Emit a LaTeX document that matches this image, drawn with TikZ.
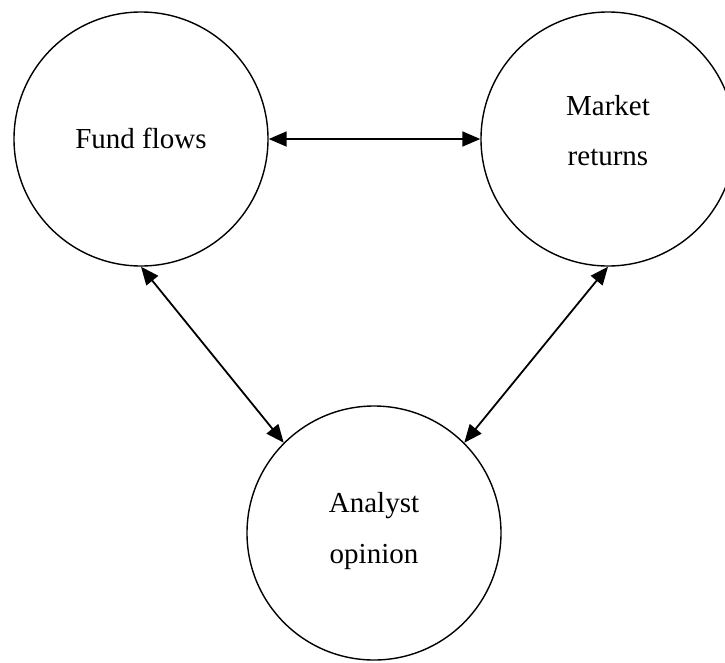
\documentclass[tikz,border=0pt]{standalone}
\usepackage{fontspec}
\setmainfont{Liberation Serif}
\usetikzlibrary{arrows.meta}
\tikzset{
  bubble/.style={draw, circle, line width=1.4pt, minimum size=254pt, inner sep=0pt},
  lbl/.style={font=\fontsize{29}{34}\selectfont, inner sep=0pt, anchor=base},
  link/.style={line width=1.8pt, {Triangle[length=18pt,width=15pt]}-{Triangle[length=18pt,width=15pt]}}
}
\begin{document}
\begin{tikzpicture}[x=1pt,y=-1pt]
\useasboundingbox (0,0) rectangle (725,662);
\clip (0,0) rectangle (725,662);
\node[bubble] (fund) at (141,139) {};
\node[bubble] (market) at (608,139) {};
\node[bubble] (analyst) at (374,533) {};
\node[lbl] (fundt) at (141,148) {Fund flows};
\node[lbl] (mkt1) at (608,115) {Market};
\node[lbl] (mkt2) at (608,165) {returns};
\node[lbl] (ana1) at (374,512) {Analyst};
\node[lbl] (ana2) at (374,563) {opinion};
\draw[link] (fund.east) -- (market.west);
\draw[link] (fund.south) -- (analyst.135);
\draw[link] (market.south) -- (analyst.45);
\end{tikzpicture}
\end{document}
